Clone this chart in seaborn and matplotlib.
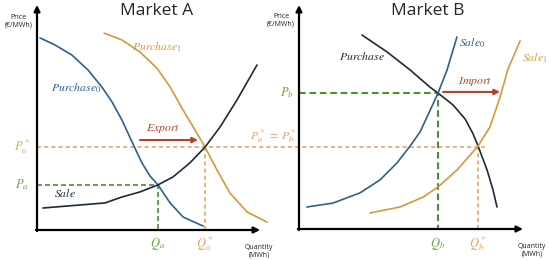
import matplotlib
matplotlib.use("Agg")
import matplotlib.pyplot as plt
import seaborn as sns
import pandas as pd

# ---- Market A (quantity, price) ----
a_purchase0_q = [1.4, 8.2, 15.9, 23.2, 29.5, 34.1, 38.6, 43.2, 47.7, 51.4, 55.0, 60.5, 66.4, 75.5]
a_purchase0_p = [87.3, 84.1, 79.5, 72.7, 65.0, 58.2, 50.0, 40.0, 30.5, 24.5, 20.5, 12.3, 5.9, 1.8]
a_purchase1_q = [30.5, 38.6, 46.8, 54.5, 60.5, 66.4, 71.8, 76.4, 81.8, 87.7, 95.5, 104.5]
a_purchase1_p = [89.5, 86.4, 80.9, 73.6, 65.0, 54.5, 45.5, 37.7, 27.3, 16.8, 8.2, 3.6]
a_sale_q = [2.7, 30.9, 38.6, 46.8, 55.0, 61.8, 69.5, 76.4, 83.2, 90.9, 100.0]
a_sale_p = [10.0, 12.3, 15.0, 17.3, 20.5, 24.1, 30.5, 37.7, 46.8, 59.1, 75.0]
q_a, p_a = 55.0, 20.5
q_a_star = 76.4
p_star = 37.7

# ---- Market B ----
b_purchase_q = [28.6, 40.0, 50.5, 59.5, 63.2, 70.0, 75.5, 79.0, 81.4, 85.5, 88.2, 90.0]
b_purchase_p = [88.2, 80.5, 72.3, 64.5, 61.8, 56.4, 50.0, 43.5, 37.7, 26.8, 17.7, 10.0]
b_sale0_q = [3.6, 15.5, 27.7, 36.8, 44.5, 50.5, 55.0, 58.6, 63.2, 67.3, 71.8]
b_sale0_p = [10.0, 11.8, 16.4, 22.3, 30.0, 37.7, 44.1, 51.8, 61.8, 72.3, 87.3]
b_sale1_q = [32.3, 45.9, 56.4, 63.2, 71.8, 81.4, 86.8, 91.4, 95.0, 100.5]
b_sale1_p = [7.3, 10.0, 14.5, 19.1, 26.8, 37.7, 46.4, 60.0, 72.7, 85.5]
q_b, p_b = 63.2, 61.8
q_b_star = 81.4

BLUE = "#2f5f8c"
ORANGE = "#d39a3c"
NAVY = "#1c2b3a"
GREEN = "#4f8f32"
GREEN_TXT = "#68a84a"
ORANGE_DASH = "#e3a56c"
ORANGE_TXT = "#e2a468"
RED = "#b4432c"

sns.set_style("white")
plt.rcParams["font.family"] = ["Open Sans", "DejaVu Sans"]
plt.rcParams["mathtext.fontset"] = "stix"


def curve(ax, q, p, color):
    df = pd.DataFrame({"q": q, "p": p})
    sns.lineplot(data=df, x="q", y="p", sort=False, estimator=None,
                 color=color, lw=1.2, ax=ax)


def axes_arrows(ax, xend, yend):
    kw = dict(arrowstyle="-|>", color="black", lw=1.6, mutation_scale=9,
              shrinkA=0, shrinkB=0)
    ax.annotate("", xy=(0, yend), xytext=(0, -0.5), arrowprops=kw,
                annotation_clip=False)
    ax.annotate("", xy=(xend, 0), xytext=(-0.5, 0), arrowprops=kw,
                annotation_clip=False)


def dashed(ax, x, y, color, lw=1.2, dash=(2.5, 1.8)):
    ax.plot(x, y, color=color, lw=lw, ls=(0, dash), clip_on=False)


fig = plt.figure(figsize=(5.5, 2.6), dpi=100)
axA = fig.add_axes([37 / 550, 30 / 260, 238 / 550, 225 / 260])
axB = fig.add_axes([299 / 550, 31 / 260, 251 / 550, 224 / 260])
axA.set_xlim(0, 238 / 2.2)
axA.set_ylim(0, 225 / 2.2)
axB.set_xlim(0, 251 / 2.2)
axB.set_ylim(0, 224 / 2.2)
for ax in (axA, axB):
    ax.set_facecolor("none")
    ax.axis("off")

math_kw = dict(ha="center", va="center", fontsize=9)
lab_kw = dict(ha="center", va="center", fontsize=8.5)
small_kw = dict(ha="center", va="center", fontsize=5, linespacing=1.1, color="#222222")

# ---- Market A ----
dashed(axA, [0, q_a, q_a], [p_a, p_a, 0], GREEN, dash=(3.0, 1.8))
dashed(axA, [0, 203.6], [p_star, p_star], ORANGE_DASH)
dashed(axA, [q_a_star, q_a_star], [p_star, 0], ORANGE_DASH)
curve(axA, a_purchase0_q, a_purchase0_p, BLUE)
curve(axA, a_purchase1_q, a_purchase1_p, ORANGE)
curve(axA, a_sale_q, a_sale_p, NAVY)
axes_arrows(axA, 101.4, 102.3)

axA.annotate("", xy=(73.2, 40.9), xytext=(46.8, 40.9),
             arrowprops=dict(arrowstyle="-|>", color=RED, lw=1.5, mutation_scale=8,
                             shrinkA=0, shrinkB=0))
axA.text(57.3, 46.2, "$Export$", color=RED, **lab_kw)
axA.text(54.5, 99.5, "Market A", ha="center", va="center", fontsize=12.5)
axA.text(-8.5, 95, "Price\n(€/MWh)", **small_kw)
axA.text(101, -9.5, "Quantity\n(MWh)", **small_kw)
axA.text(54.5, 83.2, "$Purchase_1$", color=ORANGE, **lab_kw)
axA.text(17.7, 64.5, "$Purchase_0$", color=BLUE, **lab_kw)
axA.text(12.7, 16.8, "$Sale$", color=NAVY, **lab_kw)
axA.text(-6.8, p_star, "$P_a^*$", color=ORANGE_TXT, **math_kw)
axA.text(-6.8, p_a, "$P_a$", color=GREEN_TXT, **math_kw)
axA.text(q_a, -6.4, "$Q_a$", color=GREEN_TXT, **math_kw)
axA.text(q_a_star, -6.4, "$Q_a^*$", color=ORANGE_TXT, **math_kw)
axA.text(117.8, 42.8, r"$P_a^*\;=\;P_b^*$", color=ORANGE_TXT, ha="right", va="center",
         fontsize=8.5)

# ---- Market B ----
dashed(axB, [0, q_b, q_b], [p_b, p_b, 0], GREEN, lw=1.5, dash=(3.2, 1.8))
dashed(axB, [q_b_star, q_b_star], [p_star, 0], ORANGE_DASH)
curve(axB, b_purchase_q, b_purchase_p, NAVY)
curve(axB, b_sale0_q, b_sale0_p, BLUE)
curve(axB, b_sale1_q, b_sale1_p, ORANGE)
axes_arrows(axB, 101.8, 101.8)

axB.annotate("", xy=(91.4, 62.3), xytext=(65.5, 62.3),
             arrowprops=dict(arrowstyle="-|>", color=RED, lw=1.5, mutation_scale=8,
                             shrinkA=0, shrinkB=0))
axB.text(80.0, 67.0, "$Import$", color=RED, **lab_kw)
axB.text(58.6, 99.0, "Market B", ha="center", va="center", fontsize=12.5)
axB.text(-8.2, 95, "Price\n(€/MWh)", **small_kw)
axB.text(106, -9.5, "Quantity\n(MWh)", **small_kw)
axB.text(28.6, 78.2, "$Purchase$", color=NAVY, **lab_kw)
axB.text(78.6, 84.5, "$Sale_0$", color=BLUE, **lab_kw)
axB.text(107.3, 77.7, "$Sale_1$", color=ORANGE, **lab_kw)
axB.text(-5.5, p_b, "$P_b$", color=GREEN_TXT, **math_kw)
axB.text(q_b, -6.8, "$Q_b$", color=GREEN_TXT, **math_kw)
axB.text(q_b_star, -6.8, "$Q_b^*$", color=ORANGE_TXT, **math_kw)

fig.savefig("out.png", dpi=100)
